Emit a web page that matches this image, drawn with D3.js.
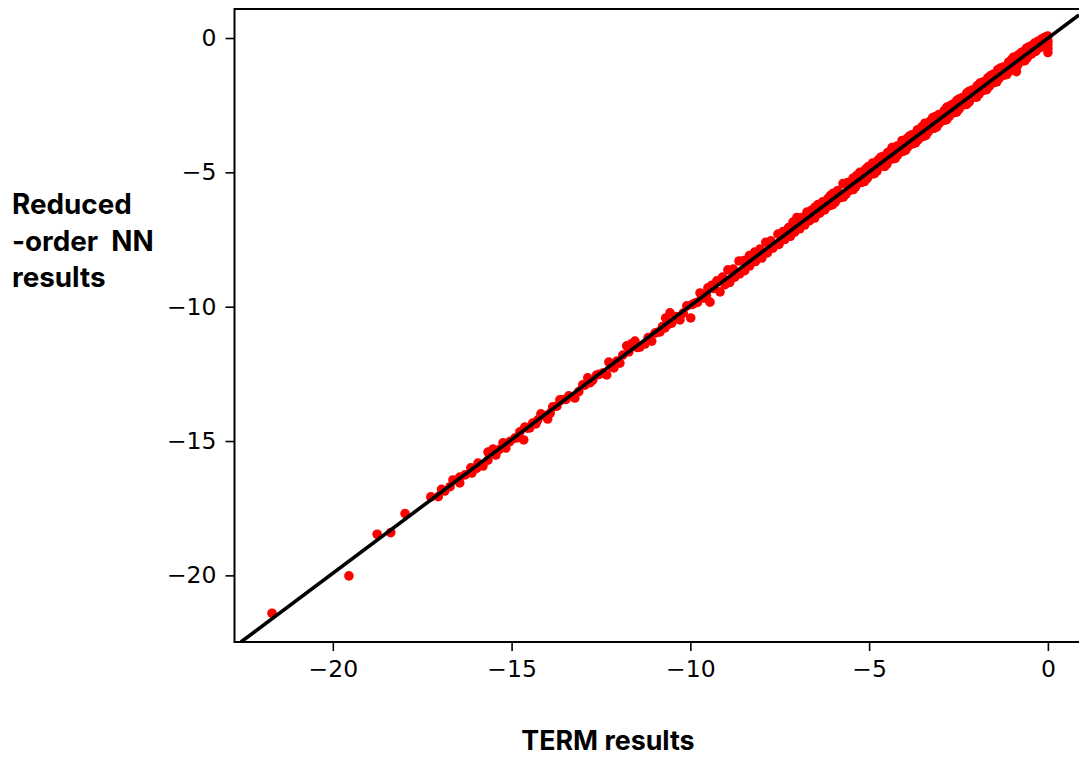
<!DOCTYPE html>
<html>
<head>
<meta charset="utf-8">
<script src="https://d3js.org/d3.v7.min.js"></script>
<style>
    body { margin: 0; background: #fff; }
    svg { display: block; }
</style>
</head>
<body>
<div id="chart"></div>
<script>
// Values
var xTicks = [-20, -15, -10, -5, 0];
var yTicks = [0, -5, -10, -15, -20];
var xDomain = [-22.75, 0.87];
var yDomain = [-22.48, 1.08];
var lineX = [-22.57, 0.87];
var lineY = [-22.48, 0.86];

var yLabelLines = ["Reduced", "-order  NN", "results"];
var xLabel = "TERM results";

var termResults = [
    -21.7, -19.55, -18.76, -18.38, -17.98, -17.26, -17.05, -16.96, -16.87,
    -16.64, -16.45, -16.45, -16.14, -16.11, -15.94, -15.80, -15.66, -15.52, -15.66,
    -15.44, -15.24, -15.16, -14.91, -14.77, -14.63, -14.66, -14.49, -14.41, -14.27,
    -14.18, -13.99, -13.85, -13.73, -13.65, -13.59, -13.40, -13.23, -13.01, -12.87,
    -12.73, -12.62, -12.45, -12.28, -12.34, -12.14, -11.97, -11.89, -11.78, -11.66,
    -11.55, -11.41, -11.27, -11.08, -10.99, -10.85, -10.71, -10.69, -10.57, -10.52,
    -10.29, -10.10, -9.99, -9.87, -9.73, -9.62, -9.51, -9.45, -9.40,
    // upper edge of the dense band
    -9.26, -9.10, -8.95, -8.80, -8.64, -8.50, -8.35, -8.20, -8.05, -7.89,
    -7.75, -7.55, -7.40, -7.25, -7.13, -7.02, -6.88, -6.74, -6.60, -6.43,
    -6.30, -6.15, -6.01, -5.88, -5.73, -5.60, -5.45, -5.26, -5.10, -4.90,
    -4.75, -4.60, -4.48, -4.36, -4.22, -4.08, -3.95, -3.80, -3.65, -3.44,
    -3.30, -3.22, -3.05, -2.90, -2.83, -2.68, -2.55, -2.40, -2.27, -2.12,
    -1.98, -1.82, -1.68, -1.52, -1.40, -1.25, -1.10, -0.97, -0.85, -0.72,
    -0.60, -0.48, -0.38, -0.28, -0.18, -0.10, -0.04, 0,
    // lower edge of the dense band
    -9.17, -9.03, -8.90, -8.76, -8.62, -8.48, -8.34, -8.18, -8.00, -7.85,
    -7.69, -7.52, -7.36, -7.20, -7.08, -6.94, -6.80, -6.66, -6.52, -6.38,
    -6.24, -6.10, -5.95, -5.80, -5.65, -5.52, -5.38, -5.22, -5.05, -4.92,
    -4.78, -4.62, -4.50, -4.35, -4.20, -4.05, -3.92, -3.78, -3.62, -3.48,
    -3.34, -3.18, -3.04, -2.90, -2.76, -2.62, -2.48, -2.34, -2.20, -2.06,
    -1.92, -1.78, -1.64, -1.50, -1.36, -1.22, -1.08, -0.96, -0.84, -0.70,
    -0.58, -0.46, -0.34, -0.22, -0.12, -0.05, 0, 0, 0, 0,
    // strays near the origin
    -0.88,
    // filling along the line below -9
    -16.72, -16.30, -15.98, -15.35, -15.05, -14.84, -14.56, -14.32, -14.08, -13.92,
    -13.48, -13.12, -12.95, -12.80, -12.55, -12.20, -12.05, -11.72, -11.48, -11.18,
    -10.92, -10.78, -10.62, -10.40, -10.20, -9.95, -9.80, -9.68, -9.55, -9.35,
    // second pass over the top of the band
    -6.95, -6.52, -6.08, -5.67, -5.35, -5.02, -4.68, -4.30, -3.88, -3.52,
    -3.14, -2.76, -2.47, -2.20, -1.90, -1.60, -1.33, -1.03, -0.78, -0.54,
    // second pass over the bottom of the band
    -6.02, -5.72, -5.44, -5.13, -4.85, -4.56, -4.27, -3.98, -3.70, -3.41,
    -3.11, -2.83, -2.55, -2.27, -1.99, -1.71, -1.43, -1.15, -0.90, -0.64
];

var nnResults = [
    -21.41, -20.02, -18.47, -18.41, -17.70, -17.08, -17.07, -16.80, -16.86,
    -16.45, -16.34, -16.56, -16.00, -16.19, -15.82, -15.93, -15.41, -15.30, -15.71,
    -15.52, -15.07, -15.26, -14.89, -14.66, -14.48, -14.96, -14.51, -14.33, -14.22,
    -13.99, -14.18, -13.73, -13.70, -13.47, -13.47, -13.32, -13.40, -12.91, -12.65,
    -12.73, -12.54, -12.47, -12.06, -12.54, -12.28, -12.10, -11.80, -11.46, -11.39,
    -11.28, -11.50, -11.39, -11.28, -10.98, -10.94, -10.79, -10.42, -10.23, -10.61,
    -10.49, -9.97, -10.42, -9.86, -9.49, -9.68, -9.30, -9.83, -9.20,
    // upper edge of the dense band
    -9.04, -8.90, -8.63, -8.60, -8.30, -8.28, -8.10, -7.97, -7.85, -7.60,
    -7.55, -7.30, -7.20, -7.05, -6.85, -6.68, -6.68, -6.48, -6.40, -6.20,
    -6.10, -5.97, -5.78, -5.68, -5.42, -5.38, -5.22, -5.00, -4.88, -4.65,
    -4.55, -4.40, -4.26, -4.08, -4.02, -3.82, -3.75, -3.60, -3.42, -3.17,
    -3.10, -2.96, -2.85, -2.70, -2.58, -2.48, -2.33, -2.22, -2.05, -1.94,
    -1.78, -1.64, -1.48, -1.34, -1.18, -1.08, -0.90, -0.72, -0.65, -0.52,
    -0.38, -0.30, -0.20, -0.12, -0.04, 0.02, 0.05, 0.07,
    // lower edge of the dense band
    -9.45, -9.18, -9.10, -8.90, -8.78, -8.66, -8.48, -8.32, -8.19, -8.00,
    -7.82, -7.68, -7.50, -7.38, -7.22, -7.10, -6.96, -6.80, -6.70, -6.52,
    -6.40, -6.24, -6.12, -5.94, -5.82, -5.66, -5.54, -5.38, -5.22, -5.06,
    -4.95, -4.76, -4.68, -4.50, -4.36, -4.22, -4.06, -3.94, -3.78, -3.66,
    -3.48, -3.36, -3.18, -3.06, -2.92, -2.78, -2.64, -2.48, -2.38, -2.20,
    -2.08, -1.94, -1.80, -1.66, -1.50, -1.38, -1.24, -1.10, -1.00, -0.85,
    -0.74, -0.60, -0.50, -0.36, -0.26, -0.18, -0.12, -0.25, -0.40, -0.54,
    // strays near the origin
    -1.25,
    // filling along the line below -9
    -16.70, -16.26, -16.02, -15.32, -15.02, -14.88, -14.52, -14.36, -14.05, -13.96,
    -13.45, -13.16, -12.92, -12.83, -12.52, -12.24, -12.02, -11.68, -11.52, -11.15,
    -10.95, -10.74, -10.66, -10.37, -10.24, -9.92, -9.84, -9.64, -9.58, -9.32,
    // second pass over the top of the band
    -6.72, -6.30, -5.86, -5.42, -5.12, -4.78, -4.44, -4.08, -3.66, -3.30,
    -2.92, -2.54, -2.26, -1.98, -1.68, -1.40, -1.12, -0.82, -0.58, -0.34,
    // second pass over the bottom of the band
    -6.20, -5.92, -5.64, -5.34, -5.05, -4.78, -4.48, -4.18, -3.90, -3.62,
    -3.31, -3.04, -2.76, -2.47, -2.20, -1.92, -1.63, -1.36, -1.11, -0.84
];

var margin = {top: 9, right: 0, bottom: 116, left: 234.5},
    width = 1079 - margin.left - margin.right,
    height = 758 - margin.top - margin.bottom;

var x = d3.scaleLinear().domain(xDomain).range([0, width]);
var y = d3.scaleLinear().domain(yDomain).range([height, 0]);

var svg = d3.select("#chart").append("svg")
    .attr("width", 1079)
    .attr("height", 758);

svg.append("defs").append("clipPath")
    .attr("id", "plot-clip")
    .append("rect")
    .attr("width", width)
    .attr("height", height);

var g = svg.append("g")
    .attr("transform", "translate(" + margin.left + "," + margin.top + ")");

// Scatter points
g.append("g")
    .attr("clip-path", "url(#plot-clip)")
    .selectAll("circle")
    .data(termResults)
    .join("circle")
    .attr("cx", function(d) { return x(d); })
    .attr("cy", function(d, i) { return y(nnResults[i]); })
    .attr("r", 4.8)
    .attr("fill", "#ff0000");

// y = x reference line
var refLine = d3.line()
    .x(function(d) { return x(d); })
    .y(function(d, i) { return y(lineY[i]); });

g.append("path")
    .datum(lineX)
    .attr("clip-path", "url(#plot-clip)")
    .attr("d", refLine)
    .attr("fill", "none")
    .attr("stroke", "#000")
    .attr("stroke-width", 3.6);

// Axes
var xAxis = g.append("g")
    .attr("transform", "translate(0," + height + ")")
    .call(d3.axisBottom(x).tickValues(xTicks).tickSize(9).tickPadding(9));

var yAxis = g.append("g")
    .call(d3.axisLeft(y).tickValues(yTicks).tickSize(9).tickPadding(9));

[xAxis, yAxis].forEach(function(axis) {
    axis.selectAll("text")
        .attr("font-family", "'DejaVu Sans', sans-serif")
        .attr("font-size", "23.5px")
        .attr("fill", "#000");
    axis.selectAll(".tick line")
        .attr("stroke", "#000")
        .attr("stroke-width", 1.6);
    axis.select(".domain").remove();
});

// Frame, the right side falls off the page
g.append("rect")
    .attr("width", width + 10)
    .attr("height", height)
    .attr("fill", "none")
    .attr("stroke", "#000")
    .attr("stroke-width", 2);

// Axis titles
svg.append("text")
    .attr("x", 12)
    .attr("y", 214)
    .attr("font-family", "Inter, sans-serif")
    .attr("font-weight", 700)
    .attr("font-size", "27.8px")
    .attr("fill", "#000")
    .style("white-space", "pre")
    .selectAll("tspan")
    .data(yLabelLines)
    .join("tspan")
    .attr("x", 12)
    .attr("dy", function(d, i) { return i ? 36.5 : 0; })
    .text(function(d) { return d; });

svg.append("text")
    .attr("x", 608)
    .attr("y", 750)
    .attr("text-anchor", "middle")
    .attr("font-family", "Inter, sans-serif")
    .attr("font-weight", 700)
    .attr("font-size", "26.8px")
    .attr("fill", "#000")
    .text(xLabel);
</script>
</body>
</html>
